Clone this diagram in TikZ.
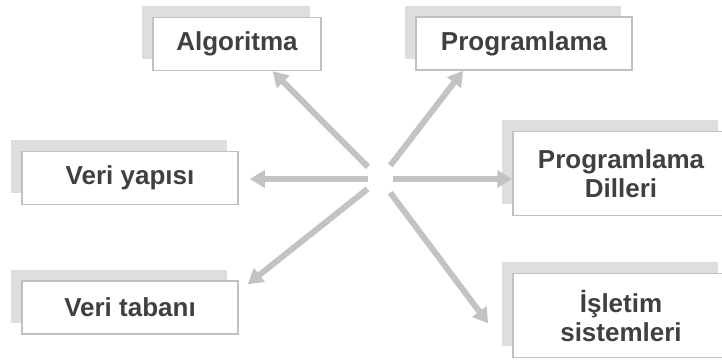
\documentclass[tikz,border=0pt]{standalone}
\usepackage{fontspec}
\setmainfont{Liberation Sans}
\usepackage{xcolor}
\usepackage{tikz}
\usetikzlibrary{arrows.meta, positioning, calc, shadows}
\definecolor{tpText}{HTML}{404040}
\definecolor{tpLine}{HTML}{C0C0C0}
\definecolor{tpShade}{HTML}{DEDEDE}
\definecolor{tpArrow}{HTML}{C3C3C3}
\tikzset{
  topicbox/.style={draw=tpLine, line width=1.5pt, fill=white, align=center,
                   inner sep=0pt, minimum height=53pt, text=tpText,
                   font=\fontsize{26}{29}\selectfont\bfseries,
                   general shadow={shadow xshift=-11pt, shadow yshift=11pt,
                                   fill=tpShade, draw=none}},
  topictall/.style={topicbox, minimum height=84pt},
  topicarrow/.style={draw=tpArrow, line width=6pt, shorten <=17pt,
                     -{Triangle[length=15pt, width=17pt]}},
}

\begin{document}
\begin{tikzpicture}[x=1pt, y=1pt]
\useasboundingbox (0,0) rectangle (722,363);
\coordinate (hub) at (380,184);
\node[topicbox, minimum width=168pt] (alg) at (237,319) {Algoritma};
\node[topicbox, minimum width=216pt] (prog) at (524,319.5) {Programlama};
\node[topicbox, minimum width=216pt] (vy) at (130,185) {Veri yapısı};
\node[topicbox, minimum width=216pt] (vt) at (130,55.5) {Veri tabanı};
\node[topictall, minimum width=216pt] (pd) at (621,189.5) {Programlama\\Dilleri};
\node[topictall, minimum width=216pt] (is) at (621,47.5) {İşletim\\sistemleri};

\draw[topicarrow] (hub) -- ($(alg.south west)!0.71!(alg.south east)$);
\draw[topicarrow] (hub) -- ($(prog.south west)!0.22!(prog.south east)$);
\draw[topicarrow, shorten <=12pt, shorten >=11pt] (hub) -- (vy.east |- hub);
\draw[topicarrow, shorten <=13pt] (hub) -- (pd.west |- hub);
\draw[topicarrow, shorten <=16pt] (hub) -- ($(vt.north east)+(9,-4)$);
\draw[topicarrow] (hub) -- ($(is.west)+(-24,-8)$);
\end{tikzpicture}
\end{document}
